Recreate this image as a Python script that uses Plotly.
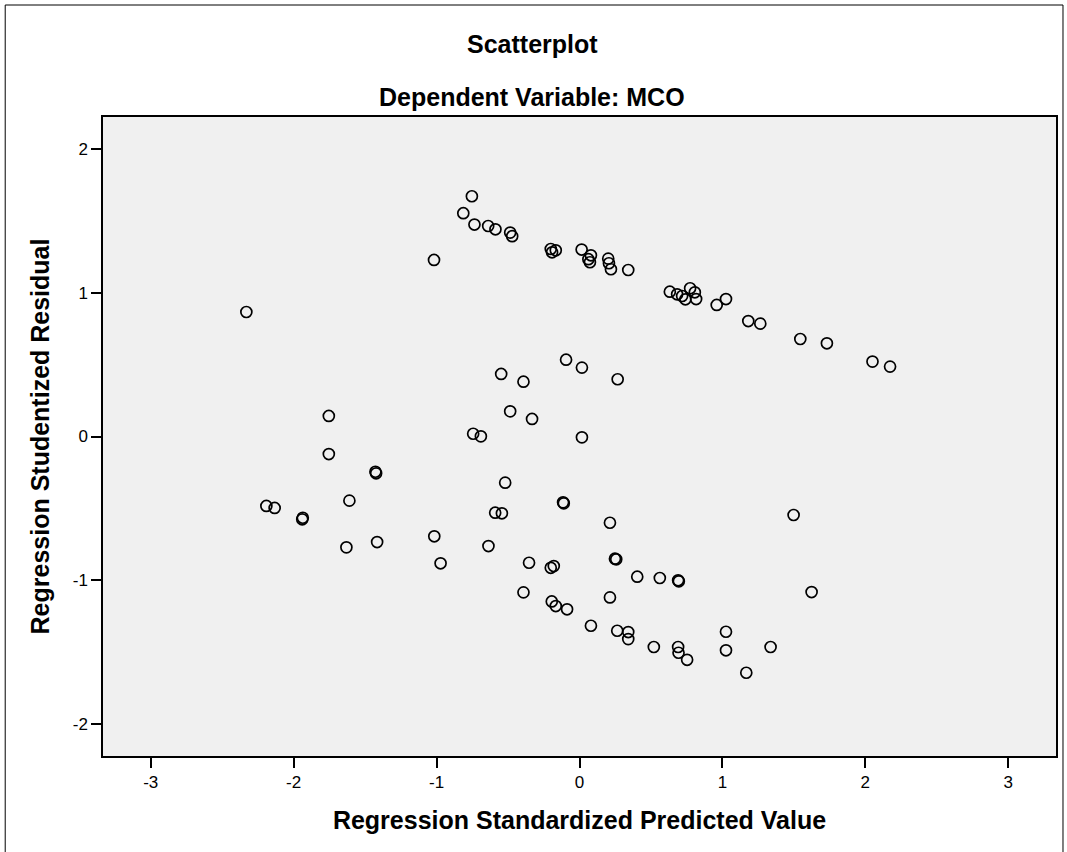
import plotly.graph_objects as go

# Regression Standardized Predicted Value
pred = [
    -2.331, -1.018, -1.754, -0.753, -0.813, -0.735, -0.639, -0.588, -0.485, -0.471,
    -0.201, -0.192, -0.166, 0.015, 0.080, 0.062, 0.073, 0.201, 0.206, 0.220,
    0.341, 0.632, 0.683, 0.718, 0.741, 0.774, 0.807, 0.816, 0.960, 1.025,
    1.181, 1.265, 1.545, 1.731, 2.050, 2.173, -0.094, 0.017, 0.267, -0.548,
    -0.392, -0.485, -0.332, -0.744, -0.690, 0.017, -1.754, -1.428, -1.423, -1.610,
    -2.191, -2.133, -1.936, -1.940, -1.631, -1.416, -1.016, -0.972, -0.520, -0.115,
    -0.110, -0.590, -0.543, 0.213, -0.637, -0.353, -0.201, -0.180, 0.248, 0.257,
    0.404, 0.562, 0.690, 0.695, -0.392, 0.213, -0.194, -0.166, -0.087, 0.080,
    0.264, 0.341, 0.341, 0.520, 0.690, 0.693, 0.753, 1.025, 1.025, 1.167,
    1.498, 1.624, 1.337,
]

# Regression Studentized Residual
resid = [
    0.866, 1.228, 0.143, 1.671, 1.553, 1.474, 1.464, 1.441, 1.418, 1.393,
    1.304, 1.281, 1.295, 1.300, 1.260, 1.233, 1.212, 1.237, 1.205, 1.163,
    1.158, 1.007, 0.989, 0.977, 0.954, 1.031, 1.003, 0.956, 0.915, 0.956,
    0.803, 0.785, 0.678, 0.648, 0.521, 0.486, 0.534, 0.479, 0.398, 0.435,
    0.381, 0.175, 0.122, 0.019, 0.001, -0.006, -0.122, -0.245, -0.256, -0.446,
    -0.483, -0.497, -0.565, -0.576, -0.771, -0.734, -0.694, -0.882, -0.321, -0.458,
    -0.465, -0.530, -0.534, -0.600, -0.762, -0.878, -0.913, -0.901, -0.850, -0.854,
    -0.975, -0.984, -1.000, -1.007, -1.084, -1.119, -1.147, -1.179, -1.202, -1.316,
    -1.351, -1.360, -1.409, -1.464, -1.464, -1.504, -1.553, -1.358, -1.487, -1.643,
    -0.546, -1.082, -1.464,
]

x_ticks = [-3, -2, -1, 0, 1, 2, 3]
y_ticks = [-2, -1, 0, 1, 2]

W, H = 1067, 852
L, R, T, B = 103, 9, 117, 96
pw, ph = W - L - R, H - T - B


def px_x(p):
    return (p - L) / pw


def px_y(p):
    return (H - B - p) / ph


fig = go.Figure()
fig.add_trace(go.Scatter(
    x=pred, y=resid, mode="markers",
    marker=dict(symbol="circle-open", size=11, color="black",
                line=dict(width=1.7, color="black")),
    hoverinfo="x+y", showlegend=False,
))

title_font = dict(family="Liberation Sans, Arial, sans-serif", size=25, color="black")
tick_font = dict(family="Liberation Sans, Arial, sans-serif", size=17, color="black")

fig.update_layout(
    width=W, height=H,
    margin=dict(l=L, r=R, t=T, b=B),
    paper_bgcolor="white",
    plot_bgcolor="#f0f0f0",
    showlegend=False,
    font=tick_font,
    xaxis=dict(
        range=[-3.334, 3.334], tickvals=x_ticks, ticktext=[str(v) for v in x_ticks],
        showgrid=False, zeroline=False, showline=True, linecolor="black", linewidth=1.5,
        mirror=True, ticks="outside", ticklen=10, tickwidth=1.5, tickcolor="black",
        tickfont=tick_font,
        title=dict(text="<b>Regression Standardized Predicted Value</b>", font=title_font,
                   standoff=20),
    ),
    yaxis=dict(
        range=[-2.222, 2.222], tickvals=y_ticks, ticktext=[str(v) for v in y_ticks],
        showgrid=False, zeroline=False, showline=True, linecolor="black", linewidth=1.5,
        mirror=True, ticks="outside", ticklen=10, tickwidth=1.5, tickcolor="black",
        tickfont=tick_font,
        title=dict(text="<b>Regression Studentized Residual</b>", font=title_font,
                   standoff=16),
    ),
    annotations=[
        dict(text="<b>Scatterplot</b>", x=px_x(533), y=px_y(44), xref="paper", yref="paper",
             xanchor="center", yanchor="middle", showarrow=False, font=title_font),
        dict(text="<b>Dependent Variable: MCO</b>", x=px_x(533), y=px_y(97), xref="paper",
             yref="paper", xanchor="center", yanchor="middle", showarrow=False,
             font=title_font),
    ],
    shapes=[
        dict(type="rect", xref="paper", yref="paper",
             x0=px_x(5), x1=px_x(1065), y0=px_y(870), y1=px_y(5),
             line=dict(color="black", width=1), fillcolor="rgba(0,0,0,0)", layer="below"),
    ],
)

fig.write_html("out.html")
